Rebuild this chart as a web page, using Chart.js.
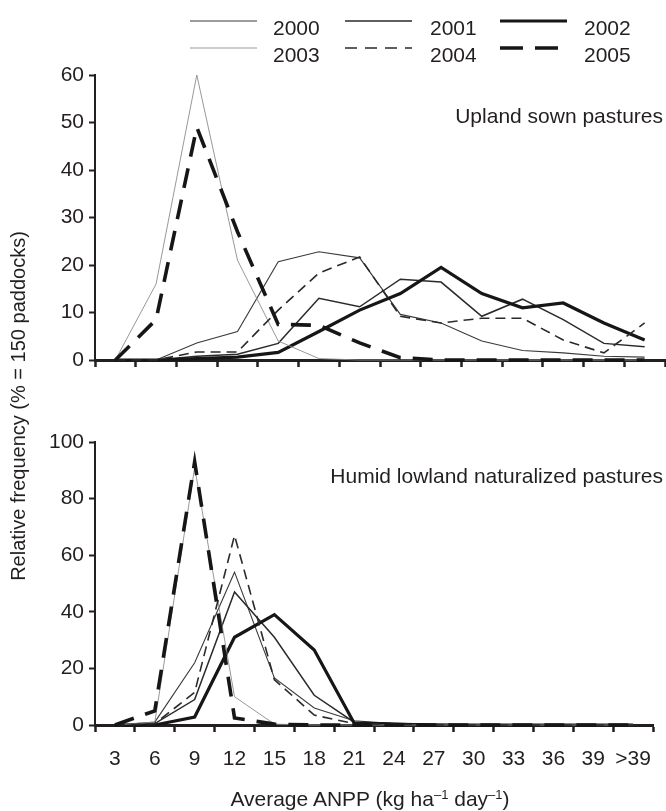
<!DOCTYPE html>
<html><head><meta charset="utf-8">
<script src="https://cdn.jsdelivr.net/npm/chart.js@4.4.1/dist/chart.umd.min.js"></script>
<style>
html,body{margin:0;padding:0;background:#fff;}
body{width:666px;height:811px;position:relative;overflow:hidden;font-family:"Liberation Sans",Arial,sans-serif;color:#231f20;}
.abs{position:absolute;white-space:nowrap;}
.txt{font-size:21px;line-height:21px;}
#topWrap{left:0;top:0;width:666px;height:380px;}
#botWrap{left:0;top:380px;width:666px;height:431px;}
sup{font-size:0.62em;line-height:0;vertical-align:baseline;position:relative;top:-0.55em;}
</style></head><body>
<div id="topWrap" class="abs"><canvas id="cTop" width="666" height="380" style="width:666px;height:380px"></canvas></div>
<div id="botWrap" class="abs"><canvas id="cBot" width="666" height="431" style="width:666px;height:431px"></canvas></div>
<svg id="leg" class="abs" width="666" height="70" style="left:0;top:0"></svg>
<div id="legText"></div>
<div class="abs txt" style="left:263px;width:400px;text-align:right;top:105px;">Upland sown pastures</div>
<div class="abs txt" style="left:263px;width:400px;text-align:right;top:465px;">Humid lowland naturalized pastures</div>
<div class="abs txt" style="left:170px;width:400px;text-align:center;top:788px;">Average ANPP (kg ha<sup>–1</sup> day<sup>–1</sup>)</div>
<div class="abs" style="left:-182px;top:394px;width:400px;height:24px;line-height:24px;font-size:20px;text-align:center;transform:rotate(-90deg);">Relative frequency (% = 150 paddocks)</div>
<script>
// ---- data ----
const categories = ['3','6','9','12','15','18','21','24','27','30','33','36','39','>39'];
const years = ['2000','2001','2002','2003','2004','2005'];
const yTicksTop = [0,10,20,30,40,50,60];
const yTicksBot = [0,20,40,60,80,100];

// Upland sown pastures
const upland2000 = [0, 0, 3.6, 6, 20.7, 22.8, 21.5, 9.6, 7.8, 4, 2, 1.5, 0.8, 0.6];
const upland2001 = [0, 0, 0.8, 1.2, 3.5, 13, 11.2, 17, 16.4, 9.2, 12.8, 8.5, 3.5, 2.8];
const upland2002 = [0, 0, 0.3, 0.6, 1.6, 6, 10.5, 14, 19.5, 14, 11, 12, 7.8, 4.2];
const upland2003 = [0, 16, 60, 21, 4, 0.3, 0, 0, 0, 0, 0, 0, 0, 0];
const upland2004 = [0, 0, 1.7, 1.7, 10.5, 18.3, 21.7, 9.2, 7.8, 8.8, 8.8, 4.2, 1.5, 7.8];
const upland2005 = [0, 8.5, 49, 27, 7.5, 7.3, 3.6, 0.5, 0, 0, 0, 0, 0, 0];

// Humid lowland naturalized pastures
const lowland2000 = [0, 1, 22, 54, 16.6, 6, 1.5, 0.5, 0, 0, 0, 0, 0, 0];
const lowland2001 = [0, 0.5, 9, 47, 31, 10.5, 1, 0.5, 0.3, 0, 0, 0, 0, 0];
const lowland2002 = [0, 0, 2.8, 31, 39, 26.5, 0.7, 0.3, 0, 0, 0, 0, 0, 0];
const lowland2003 = [0, 1, 91, 10, 0.3, 0, 0, 0, 0, 0, 0, 0, 0, 0];
const lowland2004 = [0, 0.5, 11.5, 67, 16, 3.5, 0.5, 0.3, 0, 0, 0, 0, 0, 0];
const lowland2005 = [0, 5, 93, 2.5, 0.3, 0, 0, 0, 0, 0, 0, 0, 0, 0];

// ---- styles ----
const FONT = '"Liberation Sans", Arial, sans-serif';
const INK = '#231f20';
const seriesStyle = {
  '2000': {color:'#3a3a3a', width:1.1, dash:[], legDash:[]},
  '2001': {color:'#2a2a2a', width:1.5, dash:[], legDash:[]},
  '2002': {color:'#161616', width:3.2, dash:[], legDash:[]},
  '2003': {color:'#8c8c8c', width:0.9, dash:[], legDash:[]},
  '2004': {color:'#2a2a2a', width:1.6, dash:[10,6], legDash:[12,8]},
  '2005': {color:'#161616', width:3.6, dash:[20,12], legDash:[23,12]}
};

function buildDatasets(seriesList){
  return years.map((y,i)=>({
    label:y, data:seriesList[i],
    borderColor:seriesStyle[y].color, borderWidth:seriesStyle[y].width,
    borderDash:seriesStyle[y].dash, pointRadius:0, tension:0, fill:false, clip:false,
    borderCapStyle:'butt', borderJoinStyle:'miter'
  })).reverse();
}

function makeChart(id, seriesList, yTicks, showXLabels, padTop, xAxisHeight){
  const yMax = yTicks[yTicks.length-1];
  return new Chart(document.getElementById(id), {
    type:'line',
    data:{labels:categories, datasets:buildDatasets(seriesList)},
    options:{
      responsive:false, animation:false, devicePixelRatio:1,
      layout:{padding:{top:padTop, right:1, left:0, bottom:0}},
      plugins:{legend:{display:false}, tooltip:{enabled:false}},
      scales:{
        x:{
          type:'category', offset:true,
          grid:{offset:true, drawOnChartArea:false, drawTicks:true, tickLength:7, tickWidth:2.5, tickColor:INK},
          border:{display:true, color:INK, width:3},
          ticks:{display:showXLabels, autoSkip:false, maxRotation:0, minRotation:0, padding:15, color:INK, font:{family:FONT, size:21}},
          afterFit:(s)=>{ s.height = xAxisHeight; }
        },
        y:{
          min:0, max:yMax,
          afterBuildTicks:(s)=>{ s.ticks = yTicks.map(v=>({value:v})); },
          grid:{drawOnChartArea:false, drawTicks:true, tickLength:6, tickWidth:2, tickColor:INK},
          border:{display:true, color:INK, width:2},
          ticks:{padding:5, color:INK, font:{family:FONT, size:21}},
          afterFit:(s)=>{ s.width = 95; }
        }
      }
    }
  });
}

makeChart('cTop', [upland2000, upland2001, upland2002, upland2003, upland2004, upland2005], yTicksTop, false, 75, 20);
makeChart('cBot', [lowland2000, lowland2001, lowland2002, lowland2003, lowland2004, lowland2005], yTicksBot, true, 62, 86);

// ---- legend (3 columns x 2 rows) ----
const legendCols = [{sx1:190, sx2:257, tx:273}, {sx1:345, sx2:412, tx:430}, {sx1:500, sx2:567, tx:584}];
const legendRows = [{ly:21, ty:17}, {ly:48, ty:44}];
const svg = document.getElementById('leg');
const legText = document.getElementById('legText');
years.forEach((y,i)=>{
  const c = legendCols[i%3], r = legendRows[Math.floor(i/3)], st = seriesStyle[y];
  const ln = document.createElementNS('http://www.w3.org/2000/svg','line');
  ln.setAttribute('x1', c.sx1); ln.setAttribute('x2', c.sx2);
  ln.setAttribute('y1', r.ly); ln.setAttribute('y2', r.ly);
  ln.setAttribute('stroke', st.color); ln.setAttribute('stroke-width', st.width);
  if (st.legDash.length) ln.setAttribute('stroke-dasharray', st.legDash.join(' '));
  svg.appendChild(ln);
  const d = document.createElement('div');
  d.className = 'abs txt';
  d.style.left = c.tx + 'px'; d.style.top = r.ty + 'px';
  d.textContent = y;
  legText.appendChild(d);
});
</script>
</body></html>
